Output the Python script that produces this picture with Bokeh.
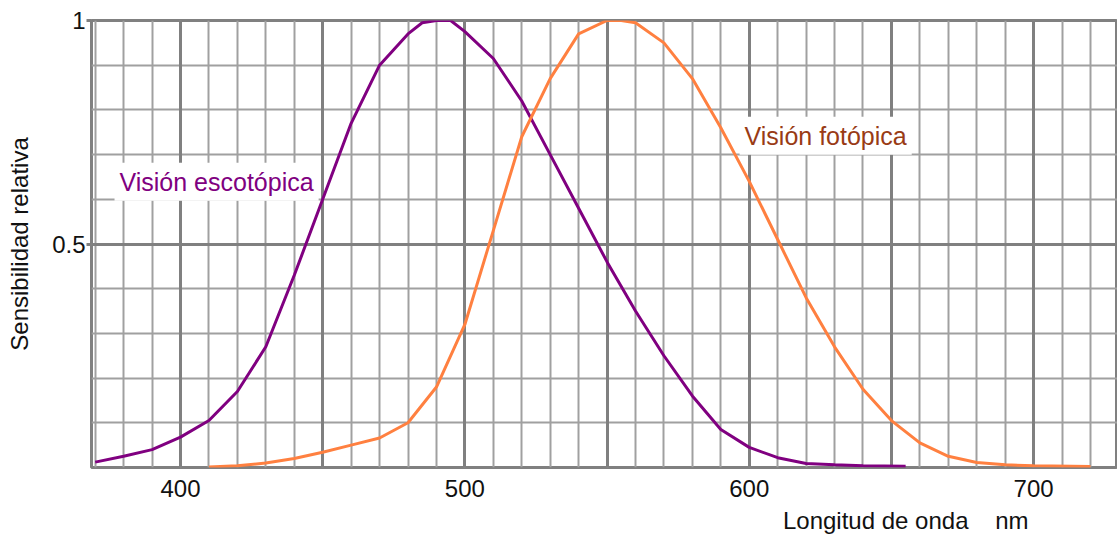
from bokeh.plotting import figure
from bokeh.models import Range1d, Grid, SingleIntervalTicker, FixedTicker, Label, Title
from bokeh.embed import file_html
from bokeh.resources import INLINE

# Scotopic vision (purple)
scot_nm = [370, 380, 390, 400, 410, 420, 430, 440, 450, 460, 470, 480, 485, 490, 495,
           500, 510, 520, 530, 540, 550, 560, 570, 580, 590, 600, 610, 620, 630, 640, 655]
scot = [0.012, 0.025, 0.04, 0.068, 0.105, 0.17, 0.27, 0.43, 0.60, 0.77, 0.90, 0.97, 0.995, 1.0, 1.0,
        0.975, 0.915, 0.82, 0.70, 0.58, 0.46, 0.35, 0.25, 0.16, 0.085, 0.045, 0.022, 0.009, 0.006, 0.004, 0.003]

# Photopic vision (orange)
phot_nm = [410, 420, 430, 440, 450, 460, 470, 480, 490, 500, 510, 520, 530, 540, 550, 555, 560,
           570, 580, 590, 600, 610, 620, 630, 640, 650, 660, 670, 680, 690, 700, 720]
phot = [0.001, 0.004, 0.01, 0.02, 0.034, 0.05, 0.066, 0.10, 0.18, 0.32, 0.53, 0.74, 0.87, 0.97, 1.0, 1.0, 0.995,
        0.95, 0.87, 0.76, 0.64, 0.51, 0.38, 0.27, 0.175, 0.105, 0.055, 0.025, 0.011, 0.006, 0.004, 0.002]

x_ticks = [400, 500, 600, 700]
y_ticks = [0.5, 1]
y_tick_text = {0.5: "0.5", 1: "1"}

FONT = "Liberation Sans"

p = figure(width=1117, height=540, output_backend="svg", toolbar_location=None,
           x_range=Range1d(368.7, 729.5), y_range=Range1d(0, 1),
           min_border_left=91, min_border_right=0, min_border_top=20, min_border_bottom=73)

p.xgrid.visible = False
p.ygrid.visible = False
p.background_fill_color = "white"
p.border_fill_color = "white"
p.outline_line_color = "#808080"
p.outline_line_width = 3

thin = "#a0a0a0"
thick = "#808080"
p.add_layout(Grid(dimension=0, ticker=SingleIntervalTicker(interval=10),
                  grid_line_color=thin, grid_line_width=2))
p.add_layout(Grid(dimension=1, ticker=SingleIntervalTicker(interval=0.1),
                  grid_line_color=thin, grid_line_width=2))
p.add_layout(Grid(dimension=0, ticker=SingleIntervalTicker(interval=50),
                  grid_line_color=thick, grid_line_width=3))
p.add_layout(Grid(dimension=1, ticker=FixedTicker(ticks=[0.5]),
                  grid_line_color=thick, grid_line_width=3))

p.line(scot_nm, scot, line_color="#800080", line_width=3)
p.line(phot_nm, phot, line_color="#ff8040", line_width=3)

xa = p.xaxis[0]
xa.ticker = FixedTicker(ticks=x_ticks)
xa.axis_line_color = None
xa.major_tick_line_color = None
xa.minor_tick_line_color = None
xa.major_label_standoff = 6
xa.major_label_text_font = FONT
xa.major_label_text_font_size = "24px"
xa.major_label_text_color = "#111111"

ya = p.yaxis[0]
ya.ticker = FixedTicker(ticks=y_ticks)
ya.major_label_overrides = y_tick_text
ya.axis_line_color = None
ya.major_tick_line_color = thick
ya.major_tick_line_width = 3
ya.major_tick_out = 5
ya.major_tick_in = 0
ya.minor_tick_line_color = None
ya.major_label_standoff = 1
ya.major_label_text_font = FONT
ya.major_label_text_font_size = "24px"
ya.major_label_text_color = "#111111"
ya.axis_label = "Sensibilidad relativa"
ya.axis_label_text_font = FONT
ya.axis_label_text_font_size = "24px"
ya.axis_label_text_font_style = "normal"
ya.axis_label_text_color = "#111111"
ya.axis_label_standoff = 16

p.add_layout(Label(x=376.8, y=0.639, text="Visión escotópica", text_color="#800080",
                   text_font=FONT, text_font_size="25px", text_baseline="alphabetic",
                   background_fill_color="white", padding=5))
p.add_layout(Label(x=596.6, y=0.742, text="Visión fotópica", text_color="#993b15",
                   text_font=FONT, text_font_size="25px", text_baseline="alphabetic",
                   background_fill_color="white", padding=5))

p.add_layout(Title(text="Longitud de onda \u00a0\u00a0\u00a0nm", align="right", offset=89, standoff=11,
                   text_font=FONT, text_font_size="24px", text_font_style="normal",
                   text_color="#111111"), "below")

open("out.html", "w").write(file_html(p, INLINE))
